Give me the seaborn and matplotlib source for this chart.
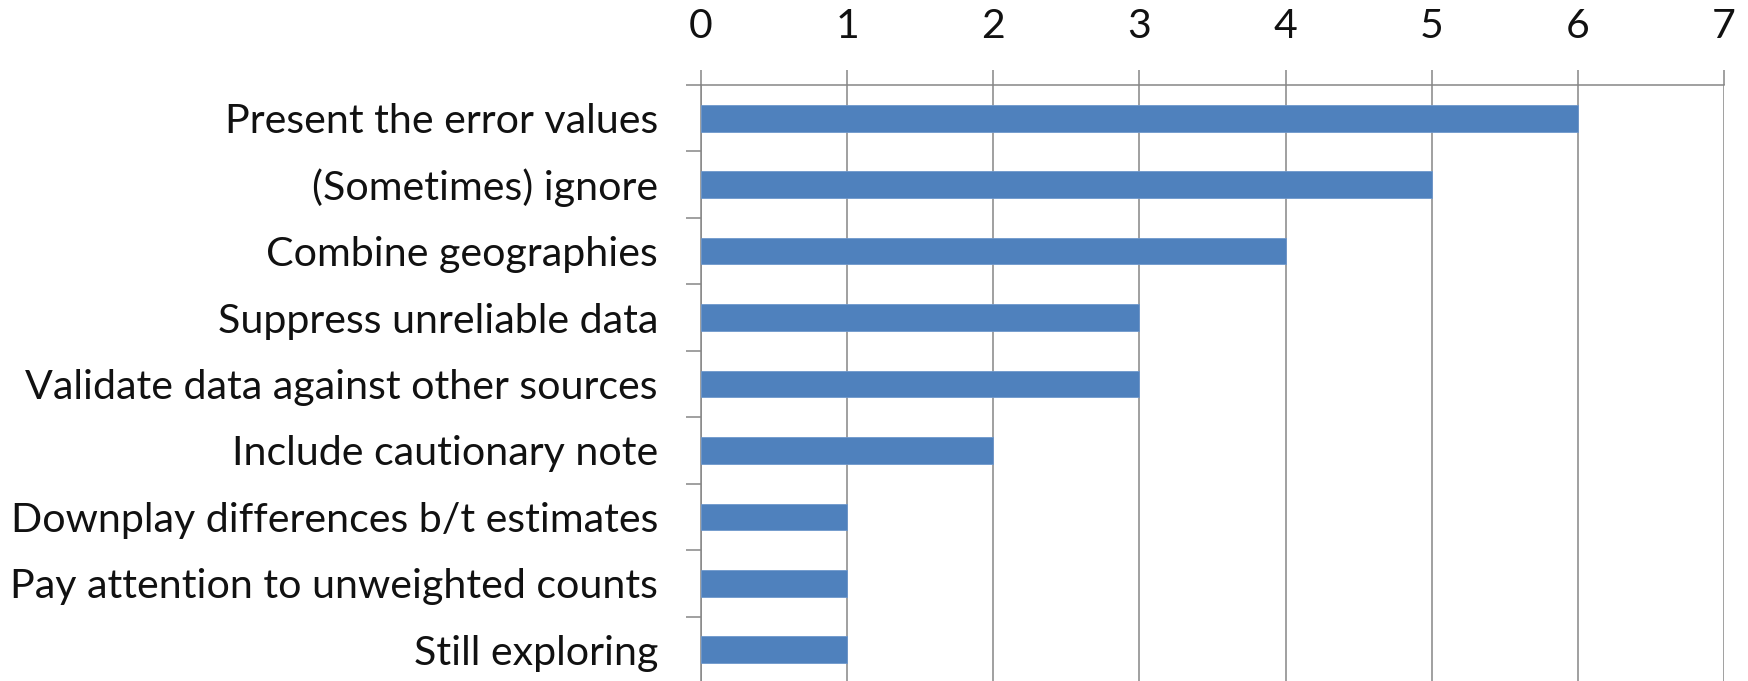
import matplotlib
matplotlib.use("Agg")
import matplotlib.pyplot as plt
import seaborn as sns
import pandas as pd
import numpy as np

categories = [
    "Present the error values",
    "(Sometimes) ignore",
    "Combine geographies",
    "Suppress unreliable data",
    "Validate data against other sources",
    "Include cautionary note",
    "Downplay differences b/t estimates",
    "Pay attention to unweighted counts",
    "Still exploring",
]
counts = [6, 5, 4, 3, 3, 2, 1, 1, 1]
x_ticks = [0, 1, 2, 3, 4, 5, 6, 7]

sns.set_style("white")
plt.rcParams['font.family'] = ['Lato', 'DejaVu Sans']

df = pd.DataFrame({"category": categories, "count": counts})

W, H = 1748, 681
fig = plt.figure(figsize=(W / 100, H / 100), dpi=100)
left, right, top, bot = 701, 1724, 85, 683
ax = fig.add_axes([left / W, (H - bot) / H, (right - left) / W, (bot - top) / H])

grid_c = "#868686"
sns.barplot(data=df, x="count", y="category", orient="h", width=0.4,
            color="#4F81BD", edgecolor="#6f98cc", linewidth=0.6,
            saturation=1, ax=ax, zorder=3)

ax.set_xlim(0, 7)
ax.set_ylim(len(categories) - 0.5, -0.5)
ax.set_xticks(x_ticks)
ax.set_xlabel("")
ax.set_ylabel("")
ax.xaxis.tick_top()
ax.grid(axis="x", color=grid_c, linewidth=1.1, zorder=0)
ax.set_axisbelow(True)

for s in ["right", "bottom"]:
    ax.spines[s].set_visible(False)
for s in ["top", "left"]:
    ax.spines[s].set_color(grid_c)
    ax.spines[s].set_linewidth(1.1)

ax.tick_params(axis="x", which="major", direction="out", length=10.8, width=1.1,
               color=grid_c, pad=18, labelsize=29.5, labelcolor="#111111",
               top=True, bottom=False)
ax.set_yticks(np.arange(len(categories)))
ax.set_yticks(np.arange(len(categories) + 1) - 0.5, minor=True)
ax.tick_params(axis="y", which="major", length=0, pad=31, labelsize=29.6,
               labelcolor="#111111")
ax.tick_params(axis="y", which="minor", direction="out", length=10.8, width=1.1,
               color=grid_c, left=True)

fig.savefig("out.png", dpi=100)
